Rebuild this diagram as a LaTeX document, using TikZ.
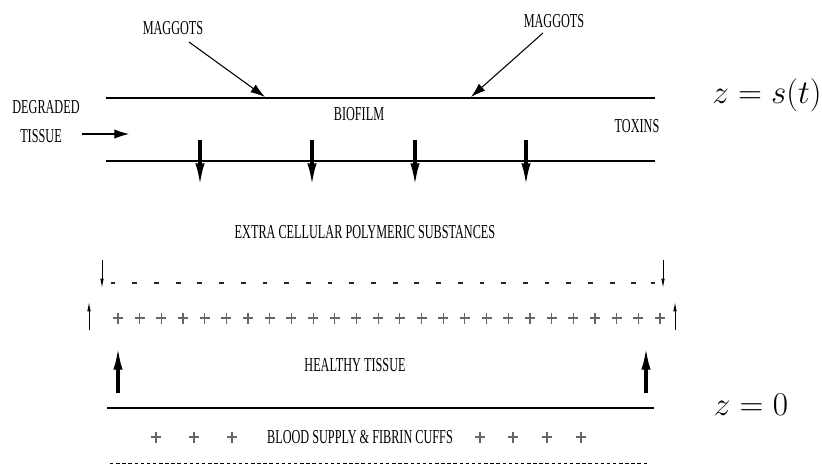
\documentclass[tikz,border=0pt]{standalone}
\usepackage{fontspec}
\usetikzlibrary{arrows.meta}
\newfontfamily\lblfont[FakeStretch=0.62]{Liberation Serif}
\begin{document}
\begin{tikzpicture}[x=0.75pt,y=-0.75pt,
  lbl/.style={inner sep=0pt,font=\lblfont\fontsize{14.8}{16}\selectfont},
  eqn/.style={inner sep=0pt,font=\fontsize{23}{28}\selectfont},
  boundary/.style={line width=1.1pt},
  thinarrow/.style={line width=0.8pt,-{Latex[length=11pt,width=7pt]}},
  bigarrow/.style={line width=2.4pt,-{Latex[length=17pt,width=7pt]}},
  smallarrow/.style={line width=0.6pt,-{Latex[length=7pt,width=2.6pt]}},
  minusmark/.style={line width=1.3pt,black!85},
  plusmark/.style={line width=0.9pt,black!60},
]
\useasboundingbox (0,0) rectangle (822,465);

% boundary lines
\coordinate (t1l) at (106,98);  \coordinate (t1r) at (655,98);
\coordinate (t2l) at (106,161); \coordinate (t2r) at (655,161);
\coordinate (bl) at (107,408);  \coordinate (br) at (654,408);
\draw[boundary] (t1l) -- (t1r);
\draw[boundary] (t2l) -- (t2r);
\draw[boundary] (bl) -- (br);
\coordinate (dl) at (110,463); \coordinate (dr) at (647,463);
\draw[line width=0.7pt,dash pattern=on 2.6pt off 2pt] (dl) -- (dr);

% labels
\node[lbl] (mag1) at (173,28) {MAGGOTS};
\node[lbl] (mag2) at (554,21) {MAGGOTS};
\node[lbl] (deg) at (46,107) {DEGRADED};
\node[lbl] (tis) at (41,136) {TISSUE};
\node[lbl] (bio) at (359,114) {BIOFILM};
\node[lbl] (tox) at (637,126) {TOXINS};
\node[lbl] (eps) at (365,232) {EXTRA CELLULAR POLYMERIC SUBSTANCES};
\node[lbl] (hea) at (355,365) {HEALTHY TISSUE};
\node[lbl] (blo) at (360,437) {BLOOD SUPPLY \& FIBRIN CUFFS};
\node[eqn] (zs) at (767,95) {$z=s(t)$};
\node[eqn] (z0) at (751,405) {$z=0$};

% maggots arrows
\coordinate (m1s) at (189,42);  \coordinate (m1e) at (265,97);
\coordinate (m2s) at (543,33);  \coordinate (m2e) at (471,97);
\draw[thinarrow] (m1s) -- (m1e);
\draw[thinarrow] (m2s) -- (m2e);
% degraded tissue arrow
\coordinate (dgs) at (82,134); \coordinate (dge) at (129,134);
\draw[thinarrow] (dgs) -- (dge);

% biofilm down arrows
\foreach \x [count=\i] in {200,312,415,526}{
  \coordinate (da\i) at (\x,140);
  \coordinate (db\i) at (\x,186);
  \draw[bigarrow] (da\i) -- (db\i);
}

% small arrows at the charge layer
\draw[smallarrow] (102,260) -- (102,288);
\draw[smallarrow] (663,260) -- (663,288);
\draw[smallarrow] (89,330) -- (89,302);
\draw[smallarrow] (675,330) -- (675,302);

% minus row
\foreach \k in {0,...,24}{
  \draw[minusmark] ({113+21.7*\k-2.4},283) -- ({113+21.7*\k+2.4},283);
}
\draw[minusmark] (650.6,283) -- (655.4,283);

% plus row
\foreach \k in {0,...,25}{
  \draw[plusmark] ({118+21.68*\k-5},318) -- ({118+21.68*\k+5},318)
                  ({118+21.68*\k},312.5) -- ({118+21.68*\k},323.5);
}

% healthy tissue up arrows
\draw[bigarrow] (118,393) -- (118,347);
\draw[bigarrow] (646,393) -- (646,347);

% blood supply pluses
\foreach \x in {156,194,232,480,513,547,581}{
  \draw[plusmark] (\x-5,437) -- (\x+5,437) (\x,431.5) -- (\x,442.5);
}
\end{tikzpicture}
\end{document}
